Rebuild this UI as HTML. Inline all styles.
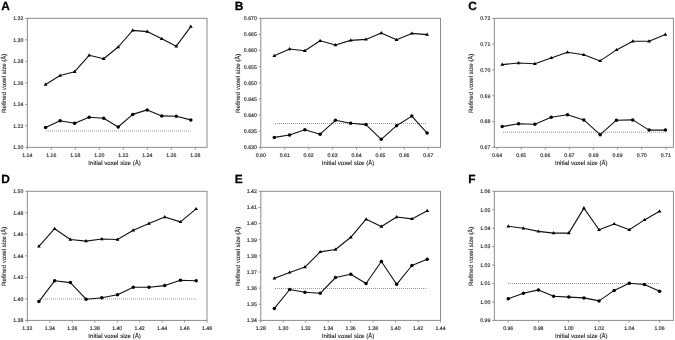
<!DOCTYPE html>
<html><head><meta charset="utf-8"><title>Voxel size refinement</title><style>
html,body{margin:0;padding:0;background:#fff;width:675px;height:340px;overflow:hidden}
svg{display:block;filter:blur(0.35px)}
text{font-family:"Liberation Sans",sans-serif;text-rendering:geometricPrecision}
.lt{font-size:11.9px;font-weight:bold;fill:#000;stroke:#000;stroke-width:0.25}
.yt{font-size:5.2px;fill:#333;stroke:#333;stroke-width:0.16;text-anchor:end}
.xt{font-size:5.2px;fill:#333;stroke:#333;stroke-width:0.16;text-anchor:middle}
.ti{font-size:6.1px;fill:#262626;stroke:#262626;stroke-width:0.12;text-anchor:middle}
.ax{fill:none;stroke:#8c8c8c;stroke-width:1}
.tk{fill:none;stroke:#8c8c8c;stroke-width:0.9}
.ln{fill:none;stroke:#111;stroke-width:1.1;stroke-linejoin:round}
.mk{fill:#000;stroke:none}
.dt{fill:none;stroke:#9a9a9a;stroke-width:1;stroke-dasharray:1 1}
</style></head>
<body><svg width="675" height="340" viewBox="0 0 675 340">
<rect width="675" height="340" fill="#fff"/>
<g><text x="1.35" y="9.6" class="lt">A</text><rect x="27.35" y="18.35" width="179.65" height="129" class="ax"/><text x="23.35" y="149.2" class="yt">1.20</text><text x="23.35" y="127.7" class="yt">1.22</text><text x="23.35" y="106.2" class="yt">1.24</text><text x="23.35" y="84.7" class="yt">1.26</text><text x="23.35" y="63.2" class="yt">1.28</text><text x="23.35" y="41.7" class="yt">1.30</text><text x="23.35" y="20.2" class="yt">1.32</text><text x="27.35" y="156.75" class="xt">1.14</text><text x="51.35" y="156.75" class="xt">1.16</text><text x="75.35" y="156.75" class="xt">1.18</text><text x="99.35" y="156.75" class="xt">1.20</text><text x="123.35" y="156.75" class="xt">1.22</text><text x="147.35" y="156.75" class="xt">1.24</text><text x="171.35" y="156.75" class="xt">1.26</text><text x="195.35" y="156.75" class="xt">1.28</text><path d="M25.15 147.35H27.35M25.15 125.85H27.35M25.15 104.35H27.35M25.15 82.85H27.35M25.15 61.35H27.35M25.15 39.85H27.35M25.15 18.35H27.35M27.35 147.35V149.55M51.35 147.35V149.55M75.35 147.35V149.55M99.35 147.35V149.55M123.35 147.35V149.55M147.35 147.35V149.55M171.35 147.35V149.55M195.35 147.35V149.55" class="tk"/><text x="114.58" y="165.25" class="ti">Initial voxel size (&#197;)</text><text transform="translate(6.35 83.25) rotate(-90)" class="ti">Refined voxel size (&#197;)</text><path d="M46 131H190.8" class="dt"/><polyline points="45.59,84.5 60.11,75.5 74.63,71.7 89.15,55.3 103.67,58.8 118.19,47 132.71,30.4 147.23,31.6 161.75,38.7 176.27,46.2 190.8,26.6" class="ln"/><polyline points="45.59,127.5 60.11,120.7 74.63,123.2 89.15,117.2 103.67,118.2 118.19,127 132.71,114.4 147.23,109.9 161.75,115.9 176.27,116.2 190.8,119.9" class="ln"/><path d="M45.59 82.5l1.9 3.2h-3.8zM60.11 73.5l1.9 3.2h-3.8zM74.63 69.7l1.9 3.2h-3.8zM89.15 53.3l1.9 3.2h-3.8zM103.67 56.8l1.9 3.2h-3.8zM118.19 45l1.9 3.2h-3.8zM132.71 28.4l1.9 3.2h-3.8zM147.23 29.6l1.9 3.2h-3.8zM161.75 36.7l1.9 3.2h-3.8zM176.27 44.2l1.9 3.2h-3.8zM190.8 24.6l1.9 3.2h-3.8z" class="mk"/><circle cx="45.59" cy="127.5" r="1.75" class="mk"/><circle cx="60.11" cy="120.7" r="1.75" class="mk"/><circle cx="74.63" cy="123.2" r="1.75" class="mk"/><circle cx="89.15" cy="117.2" r="1.75" class="mk"/><circle cx="103.67" cy="118.2" r="1.75" class="mk"/><circle cx="118.19" cy="127" r="1.75" class="mk"/><circle cx="132.71" cy="114.4" r="1.75" class="mk"/><circle cx="147.23" cy="109.9" r="1.75" class="mk"/><circle cx="161.75" cy="115.9" r="1.75" class="mk"/><circle cx="176.27" cy="116.2" r="1.75" class="mk"/><circle cx="190.8" cy="119.9" r="1.75" class="mk"/></g>
<g><text x="234.8" y="9.6" class="lt">B</text><rect x="260.8" y="18.35" width="179.7" height="129" class="ax"/><text x="256.8" y="149.2" class="yt">0.630</text><text x="256.8" y="133.07" class="yt">0.635</text><text x="256.8" y="116.95" class="yt">0.640</text><text x="256.8" y="100.82" class="yt">0.645</text><text x="256.8" y="84.7" class="yt">0.650</text><text x="256.8" y="68.57" class="yt">0.655</text><text x="256.8" y="52.45" class="yt">0.660</text><text x="256.8" y="36.32" class="yt">0.665</text><text x="256.8" y="20.2" class="yt">0.670</text><text x="260.8" y="156.75" class="xt">0.60</text><text x="284.73" y="156.75" class="xt">0.61</text><text x="308.66" y="156.75" class="xt">0.62</text><text x="332.59" y="156.75" class="xt">0.63</text><text x="356.52" y="156.75" class="xt">0.64</text><text x="380.45" y="156.75" class="xt">0.65</text><text x="404.38" y="156.75" class="xt">0.66</text><text x="428.31" y="156.75" class="xt">0.67</text><path d="M258.6 147.35H260.8M258.6 131.22H260.8M258.6 115.1H260.8M258.6 98.97H260.8M258.6 82.85H260.8M258.6 66.72H260.8M258.6 50.6H260.8M258.6 34.47H260.8M258.6 18.35H260.8M260.8 147.35V149.55M284.73 147.35V149.55M308.66 147.35V149.55M332.59 147.35V149.55M356.52 147.35V149.55M380.45 147.35V149.55M404.38 147.35V149.55M428.31 147.35V149.55" class="tk"/><text x="348.05" y="165.25" class="ti">Initial voxel size (&#197;)</text><text transform="translate(239.8 83.25) rotate(-90)" class="ti">Refined voxel size (&#197;)</text><path d="M275 123.5H427.1" class="dt"/><polyline points="274.29,55.8 289.57,49 304.85,50.8 320.13,40.7 335.41,45 350.69,40.4 365.97,39.4 381.25,33.1 396.53,39.7 411.81,33.4 427.1,34.6" class="ln"/><polyline points="274.29,137.4 289.57,135 304.85,129.7 320.13,134.2 335.41,120.3 350.69,123.3 365.97,124.6 381.25,139.3 396.53,125.7 411.81,116.1 427.1,133.1" class="ln"/><path d="M274.29 53.8l1.9 3.2h-3.8zM289.57 47l1.9 3.2h-3.8zM304.85 48.8l1.9 3.2h-3.8zM320.13 38.7l1.9 3.2h-3.8zM335.41 43l1.9 3.2h-3.8zM350.69 38.4l1.9 3.2h-3.8zM365.97 37.4l1.9 3.2h-3.8zM381.25 31.1l1.9 3.2h-3.8zM396.53 37.7l1.9 3.2h-3.8zM411.81 31.4l1.9 3.2h-3.8zM427.1 32.6l1.9 3.2h-3.8z" class="mk"/><circle cx="274.29" cy="137.4" r="1.75" class="mk"/><circle cx="289.57" cy="135" r="1.75" class="mk"/><circle cx="304.85" cy="129.7" r="1.75" class="mk"/><circle cx="320.13" cy="134.2" r="1.75" class="mk"/><circle cx="335.41" cy="120.3" r="1.75" class="mk"/><circle cx="350.69" cy="123.3" r="1.75" class="mk"/><circle cx="365.97" cy="124.6" r="1.75" class="mk"/><circle cx="381.25" cy="139.3" r="1.75" class="mk"/><circle cx="396.53" cy="125.7" r="1.75" class="mk"/><circle cx="411.81" cy="116.1" r="1.75" class="mk"/><circle cx="427.1" cy="133.1" r="1.75" class="mk"/></g>
<g><text x="468.35" y="9.6" class="lt">C</text><rect x="494.35" y="18.35" width="179.05" height="129" class="ax"/><text x="490.35" y="149.2" class="yt">0.67</text><text x="490.35" y="123.4" class="yt">0.68</text><text x="490.35" y="97.6" class="yt">0.69</text><text x="490.35" y="71.8" class="yt">0.70</text><text x="490.35" y="46" class="yt">0.71</text><text x="490.35" y="20.2" class="yt">0.72</text><text x="497.1" y="156.75" class="xt">0.64</text><text x="521.2" y="156.75" class="xt">0.65</text><text x="545.3" y="156.75" class="xt">0.66</text><text x="569.4" y="156.75" class="xt">0.67</text><text x="593.5" y="156.75" class="xt">0.68</text><text x="617.6" y="156.75" class="xt">0.69</text><text x="641.7" y="156.75" class="xt">0.70</text><text x="665.8" y="156.75" class="xt">0.71</text><path d="M492.15 147.35H494.35M492.15 121.55H494.35M492.15 95.75H494.35M492.15 69.95H494.35M492.15 44.15H494.35M492.15 18.35H494.35M497.1 147.35V149.55M521.2 147.35V149.55M545.3 147.35V149.55M569.4 147.35V149.55M593.5 147.35V149.55M617.6 147.35V149.55M641.7 147.35V149.55M665.8 147.35V149.55" class="tk"/><text x="581.27" y="165.25" class="ti">Initial voxel size (&#197;)</text><text transform="translate(473.35 83.25) rotate(-90)" class="ti">Refined voxel size (&#197;)</text><path d="M503 132.2H665.41" class="dt"/><polyline points="502.22,64.6 518.54,63 534.86,63.8 551.18,57.9 567.5,52.3 583.82,54.7 600.14,60.9 616.46,49.9 632.78,41.3 649.09,41.3 665.41,34.6" class="ln"/><polyline points="502.22,126.6 518.54,123.7 534.86,124.2 551.18,117.3 567.5,114.8 583.82,119.9 600.14,134.7 616.46,120.2 632.78,119.9 649.09,130.1 665.41,130.1" class="ln"/><path d="M502.22 62.6l1.9 3.2h-3.8zM518.54 61l1.9 3.2h-3.8zM534.86 61.8l1.9 3.2h-3.8zM551.18 55.9l1.9 3.2h-3.8zM567.5 50.3l1.9 3.2h-3.8zM583.82 52.7l1.9 3.2h-3.8zM600.14 58.9l1.9 3.2h-3.8zM616.46 47.9l1.9 3.2h-3.8zM632.78 39.3l1.9 3.2h-3.8zM649.09 39.3l1.9 3.2h-3.8zM665.41 32.6l1.9 3.2h-3.8z" class="mk"/><circle cx="502.22" cy="126.6" r="1.75" class="mk"/><circle cx="518.54" cy="123.7" r="1.75" class="mk"/><circle cx="534.86" cy="124.2" r="1.75" class="mk"/><circle cx="551.18" cy="117.3" r="1.75" class="mk"/><circle cx="567.5" cy="114.8" r="1.75" class="mk"/><circle cx="583.82" cy="119.9" r="1.75" class="mk"/><circle cx="600.14" cy="134.7" r="1.75" class="mk"/><circle cx="616.46" cy="120.2" r="1.75" class="mk"/><circle cx="632.78" cy="119.9" r="1.75" class="mk"/><circle cx="649.09" cy="130.1" r="1.75" class="mk"/><circle cx="665.41" cy="130.1" r="1.75" class="mk"/></g>
<g><text x="1.35" y="182.9" class="lt">D</text><rect x="27.35" y="191.3" width="179.65" height="129.1" class="ax"/><text x="23.35" y="322.25" class="yt">1.38</text><text x="23.35" y="300.73" class="yt">1.40</text><text x="23.35" y="279.22" class="yt">1.42</text><text x="23.35" y="257.7" class="yt">1.44</text><text x="23.35" y="236.18" class="yt">1.46</text><text x="23.35" y="214.67" class="yt">1.48</text><text x="23.35" y="193.15" class="yt">1.50</text><text x="27.35" y="329.8" class="xt">1.32</text><text x="49.81" y="329.8" class="xt">1.34</text><text x="72.27" y="329.8" class="xt">1.36</text><text x="94.73" y="329.8" class="xt">1.38</text><text x="117.19" y="329.8" class="xt">1.40</text><text x="139.65" y="329.8" class="xt">1.42</text><text x="162.11" y="329.8" class="xt">1.44</text><text x="184.57" y="329.8" class="xt">1.46</text><text x="207.03" y="329.8" class="xt">1.48</text><path d="M25.15 320.4H27.35M25.15 298.88H27.35M25.15 277.37H27.35M25.15 255.85H27.35M25.15 234.33H27.35M25.15 212.82H27.35M25.15 191.3H27.35M27.35 320.4V322.6M49.81 320.4V322.6M72.27 320.4V322.6M94.73 320.4V322.6M117.19 320.4V322.6M139.65 320.4V322.6M162.11 320.4V322.6M184.57 320.4V322.6M207.03 320.4V322.6" class="tk"/><text x="114.58" y="338.3" class="ti">Initial voxel size (&#197;)</text><text transform="translate(6.35 256.25) rotate(-90)" class="ti">Refined voxel size (&#197;)</text><path d="M39 299H196.17" class="dt"/><polyline points="38.9,246.3 54.63,228.7 70.36,239.5 86.08,241.1 101.81,239 117.54,239.5 133.26,230.3 148.99,223.5 164.72,217 180.44,221.9 196.17,208.9" class="ln"/><polyline points="38.9,301.6 54.63,280.8 70.36,282.6 86.08,299.2 101.81,297.8 117.54,294.8 133.26,287.3 148.99,287.3 164.72,285.6 180.44,280.2 196.17,280.8" class="ln"/><path d="M38.9 244.3l1.9 3.2h-3.8zM54.63 226.7l1.9 3.2h-3.8zM70.36 237.5l1.9 3.2h-3.8zM86.08 239.1l1.9 3.2h-3.8zM101.81 237l1.9 3.2h-3.8zM117.54 237.5l1.9 3.2h-3.8zM133.26 228.3l1.9 3.2h-3.8zM148.99 221.5l1.9 3.2h-3.8zM164.72 215l1.9 3.2h-3.8zM180.44 219.9l1.9 3.2h-3.8zM196.17 206.9l1.9 3.2h-3.8z" class="mk"/><circle cx="38.9" cy="301.6" r="1.75" class="mk"/><circle cx="54.63" cy="280.8" r="1.75" class="mk"/><circle cx="70.36" cy="282.6" r="1.75" class="mk"/><circle cx="86.08" cy="299.2" r="1.75" class="mk"/><circle cx="101.81" cy="297.8" r="1.75" class="mk"/><circle cx="117.54" cy="294.8" r="1.75" class="mk"/><circle cx="133.26" cy="287.3" r="1.75" class="mk"/><circle cx="148.99" cy="287.3" r="1.75" class="mk"/><circle cx="164.72" cy="285.6" r="1.75" class="mk"/><circle cx="180.44" cy="280.2" r="1.75" class="mk"/><circle cx="196.17" cy="280.8" r="1.75" class="mk"/></g>
<g><text x="234.8" y="182.9" class="lt">E</text><rect x="260.8" y="191.3" width="179.7" height="129.1" class="ax"/><text x="256.8" y="322.25" class="yt">1.34</text><text x="256.8" y="306.11" class="yt">1.35</text><text x="256.8" y="289.97" class="yt">1.36</text><text x="256.8" y="273.84" class="yt">1.37</text><text x="256.8" y="257.7" class="yt">1.38</text><text x="256.8" y="241.56" class="yt">1.39</text><text x="256.8" y="225.43" class="yt">1.40</text><text x="256.8" y="209.29" class="yt">1.41</text><text x="256.8" y="193.15" class="yt">1.42</text><text x="260.8" y="329.8" class="xt">1.28</text><text x="283.26" y="329.8" class="xt">1.30</text><text x="305.72" y="329.8" class="xt">1.32</text><text x="328.18" y="329.8" class="xt">1.34</text><text x="350.64" y="329.8" class="xt">1.36</text><text x="373.1" y="329.8" class="xt">1.38</text><text x="395.56" y="329.8" class="xt">1.40</text><text x="418.02" y="329.8" class="xt">1.42</text><text x="440.48" y="329.8" class="xt">1.44</text><path d="M258.6 320.4H260.8M258.6 304.26H260.8M258.6 288.12H260.8M258.6 271.99H260.8M258.6 255.85H260.8M258.6 239.71H260.8M258.6 223.58H260.8M258.6 207.44H260.8M258.6 191.3H260.8M260.8 320.4V322.6M283.26 320.4V322.6M305.72 320.4V322.6M328.18 320.4V322.6M350.64 320.4V322.6M373.1 320.4V322.6M395.56 320.4V322.6M418.02 320.4V322.6M440.48 320.4V322.6" class="tk"/><text x="348.05" y="338.3" class="ti">Initial voxel size (&#197;)</text><text transform="translate(239.8 256.25) rotate(-90)" class="ti">Refined voxel size (&#197;)</text><path d="M275 288.5H427.22" class="dt"/><polyline points="274.38,278.3 289.67,272.4 304.95,267.1 320.23,251.9 335.52,249.5 350.8,237.3 366.08,219.2 381.37,226.5 396.65,217 411.93,218.9 427.22,210.8" class="ln"/><polyline points="274.38,308.4 289.67,289.5 304.95,292.2 320.23,293.3 335.52,277.5 350.8,274.3 366.08,283.5 381.37,261.5 396.65,284.3 411.93,265.5 427.22,259.3" class="ln"/><path d="M274.38 276.3l1.9 3.2h-3.8zM289.67 270.4l1.9 3.2h-3.8zM304.95 265.1l1.9 3.2h-3.8zM320.23 249.9l1.9 3.2h-3.8zM335.52 247.5l1.9 3.2h-3.8zM350.8 235.3l1.9 3.2h-3.8zM366.08 217.2l1.9 3.2h-3.8zM381.37 224.5l1.9 3.2h-3.8zM396.65 215l1.9 3.2h-3.8zM411.93 216.9l1.9 3.2h-3.8zM427.22 208.8l1.9 3.2h-3.8z" class="mk"/><circle cx="274.38" cy="308.4" r="1.75" class="mk"/><circle cx="289.67" cy="289.5" r="1.75" class="mk"/><circle cx="304.95" cy="292.2" r="1.75" class="mk"/><circle cx="320.23" cy="293.3" r="1.75" class="mk"/><circle cx="335.52" cy="277.5" r="1.75" class="mk"/><circle cx="350.8" cy="274.3" r="1.75" class="mk"/><circle cx="366.08" cy="283.5" r="1.75" class="mk"/><circle cx="381.37" cy="261.5" r="1.75" class="mk"/><circle cx="396.65" cy="284.3" r="1.75" class="mk"/><circle cx="411.93" cy="265.5" r="1.75" class="mk"/><circle cx="427.22" cy="259.3" r="1.75" class="mk"/></g>
<g><text x="468.35" y="182.9" class="lt">F</text><rect x="494.35" y="191.3" width="179.05" height="129.1" class="ax"/><text x="490.35" y="322.25" class="yt">0.99</text><text x="490.35" y="303.81" class="yt">1.00</text><text x="490.35" y="285.36" class="yt">1.01</text><text x="490.35" y="266.92" class="yt">1.02</text><text x="490.35" y="248.48" class="yt">1.03</text><text x="490.35" y="230.04" class="yt">1.04</text><text x="490.35" y="211.59" class="yt">1.05</text><text x="490.35" y="193.15" class="yt">1.06</text><text x="508.2" y="329.8" class="xt">0.96</text><text x="538.46" y="329.8" class="xt">0.98</text><text x="568.72" y="329.8" class="xt">1.00</text><text x="598.98" y="329.8" class="xt">1.02</text><text x="629.24" y="329.8" class="xt">1.04</text><text x="659.5" y="329.8" class="xt">1.06</text><path d="M492.15 320.4H494.35M492.15 301.96H494.35M492.15 283.51H494.35M492.15 265.07H494.35M492.15 246.63H494.35M492.15 228.19H494.35M492.15 209.74H494.35M492.15 191.3H494.35M508.2 320.4V322.6M538.46 320.4V322.6M568.72 320.4V322.6M598.98 320.4V322.6M629.24 320.4V322.6M659.5 320.4V322.6" class="tk"/><text x="581.27" y="338.3" class="ti">Initial voxel size (&#197;)</text><text transform="translate(473.35 256.25) rotate(-90)" class="ti">Refined voxel size (&#197;)</text><path d="M508 283.5H659.57" class="dt"/><polyline points="508.27,226.3 523.4,228.2 538.53,231.4 553.66,233.1 568.79,233.1 583.92,208.1 599.05,229.8 614.18,223.9 629.31,229.8 644.44,219.9 659.57,211.3" class="ln"/><polyline points="508.27,298.7 523.4,293.3 538.53,289.9 553.66,296.3 568.79,297.1 583.92,297.9 599.05,300.9 614.18,290.4 629.31,283.2 644.44,284.5 659.57,291.2" class="ln"/><path d="M508.27 224.3l1.9 3.2h-3.8zM523.4 226.2l1.9 3.2h-3.8zM538.53 229.4l1.9 3.2h-3.8zM553.66 231.1l1.9 3.2h-3.8zM568.79 231.1l1.9 3.2h-3.8zM583.92 206.1l1.9 3.2h-3.8zM599.05 227.8l1.9 3.2h-3.8zM614.18 221.9l1.9 3.2h-3.8zM629.31 227.8l1.9 3.2h-3.8zM644.44 217.9l1.9 3.2h-3.8zM659.57 209.3l1.9 3.2h-3.8z" class="mk"/><circle cx="508.27" cy="298.7" r="1.75" class="mk"/><circle cx="523.4" cy="293.3" r="1.75" class="mk"/><circle cx="538.53" cy="289.9" r="1.75" class="mk"/><circle cx="553.66" cy="296.3" r="1.75" class="mk"/><circle cx="568.79" cy="297.1" r="1.75" class="mk"/><circle cx="583.92" cy="297.9" r="1.75" class="mk"/><circle cx="599.05" cy="300.9" r="1.75" class="mk"/><circle cx="614.18" cy="290.4" r="1.75" class="mk"/><circle cx="629.31" cy="283.2" r="1.75" class="mk"/><circle cx="644.44" cy="284.5" r="1.75" class="mk"/><circle cx="659.57" cy="291.2" r="1.75" class="mk"/></g>
</svg></body></html>
